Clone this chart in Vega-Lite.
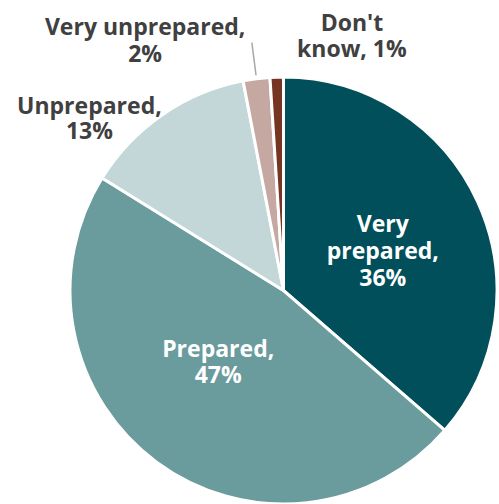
{
  "$schema": "https://vega.github.io/schema/vega-lite/v6.json",
  "width": 427,
  "height": 427,
  "autosize": "none",
  "padding": {"left": 70, "top": 77, "right": 2, "bottom": 0},
  "background": "white",
  "view": {"stroke": null},
  "data": {
    "values": [
      {"category": "Very prepared", "value": 36, "rank": 1, "label": "Very\nprepared,\n36%"},
      {"category": "Prepared", "value": 47, "rank": 2, "label": "Prepared,\n47%"},
      {"category": "Unprepared", "value": 13, "rank": 3, "label": "Unprepared,\n13%"},
      {"category": "Very unprepared", "value": 2, "rank": 4, "label": "Very unprepared,\n2%"},
      {"category": "Don't know", "value": 1, "rank": 5, "label": "Don't\nknow, 1%"}
    ]
  },
  "encoding": {
    "theta": {"field": "value", "type": "quantitative", "stack": true},
    "order": {"field": "rank", "type": "quantitative"}
  },
  "layer": [
    {
      "mark": {"type": "arc", "outerRadius": 213.5, "stroke": "white", "strokeWidth": 3},
      "encoding": {
        "color": {
          "field": "category",
          "type": "nominal",
          "scale": {
            "domain": ["Very prepared", "Prepared", "Unprepared", "Very unprepared", "Don't know"],
            "range": ["#004f5a", "#6a9b9d", "#c3d7d8", "#c5a8a2", "#763422"]
          },
          "legend": null
        }
      }
    },
    {
      "mark": {"type": "arc", "outerRadius": 250, "innerRadius": 217, "padAngle": 0.3, "fillOpacity": 0, "stroke": "#a6a6a6", "strokeWidth": 1.5},
      "encoding": {
        "strokeOpacity": {"condition": {"test": "datum.rank == 4", "value": 1}, "value": 0}
      }
    },
    {
      "mark": {"type": "text", "radius": 108, "dx": 1, "dy": -21, "fontSize": 23, "fontWeight": "bold", "font": "Open Sans", "fill": "white", "lineBreak": "\n", "lineHeight": 27},
      "encoding": {"text": {"condition": {"test": "datum.rank == 1", "field": "label", "type": "nominal"}, "value": ""}}
    },
    {
      "mark": {"type": "text", "radius": 100, "dx": -6, "dy": -21, "fontSize": 23, "fontWeight": "bold", "font": "Open Sans", "fill": "white", "lineBreak": "\n", "lineHeight": 26},
      "encoding": {"text": {"condition": {"test": "datum.rank == 2", "field": "label", "type": "nominal"}, "value": ""}}
    },
    {
      "mark": {"type": "text", "radius": 240, "dx": -58, "dy": 14, "fontSize": 23, "fontWeight": "bold", "font": "Open Sans", "fill": "#404040", "lineBreak": "\n", "lineHeight": 25},
      "encoding": {"text": {"condition": {"test": "datum.rank == 3", "field": "label", "type": "nominal"}, "value": ""}}
    },
    {
      "mark": {"type": "text", "radius": 240, "dx": -108, "dy": -24, "fontSize": 23, "fontWeight": "bold", "font": "Open Sans", "fill": "#404040", "lineBreak": "\n", "lineHeight": 27},
      "encoding": {"text": {"condition": {"test": "datum.rank == 4", "field": "label", "type": "nominal"}, "value": ""}}
    },
    {
      "mark": {"type": "text", "radius": 240, "dx": 76, "dy": -27, "fontSize": 23, "fontWeight": "bold", "font": "Open Sans", "fill": "#404040", "lineBreak": "\n", "lineHeight": 26},
      "encoding": {"text": {"condition": {"test": "datum.rank == 5", "field": "label", "type": "nominal"}, "value": ""}}
    }
  ]
}
